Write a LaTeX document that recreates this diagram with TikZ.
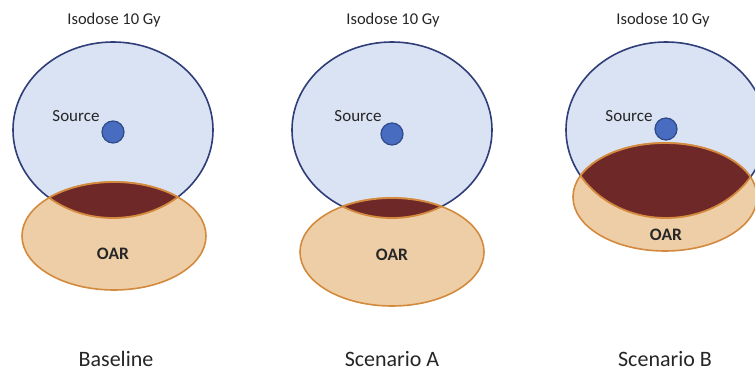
\documentclass[tikz,border=0pt]{standalone}
\usepackage{fontspec}
\setmainfont{Carlito}
\begin{document}
\begin{tikzpicture}[x=1pt,y=-1pt,
  isofill/.style={fill=isoblue,draw=isoedge,line width=1.6pt},
  oarfill/.style={fill=oarpeach,draw=oaredge,line width=1.6pt},
  srcdot/.style={circle,fill=srcblue,draw=srcedge,line width=1.2pt,minimum size=22pt,inner sep=0pt},
  toplbl/.style={font=\fontsize{16.5}{19}\selectfont,text=black!85},
  srclbl/.style={font=\fontsize{17}{20}\selectfont,text=black!85},
  oarlbl/.style={font=\bfseries\fontsize{17.5}{20}\selectfont,text=black!85},
  caplbl/.style={font=\fontsize{22}{26}\selectfont,text=black!85}]
\definecolor{isoblue}{RGB}{218,227,243}
\definecolor{isoedge}{RGB}{47,62,120}
\definecolor{srcblue}{RGB}{72,108,192}
\definecolor{srcedge}{RGB}{47,74,138}
\definecolor{oarpeach}{RGB}{238,206,166}
\definecolor{oaredge}{RGB}{212,138,62}
\definecolor{maroon}{RGB}{110,40,40}
\useasboundingbox (0,0) rectangle (755,371);
\fill[white] (0,0) rectangle (755,371);
\clip (0,0) rectangle (755,371);
% panels: iso center x,y ; oar center x,y
\foreach \ix/\iy/\ox/\oy/\nm in {113/130/114/236/a, 392/130/392/252/b, 666/130/665/197/c}{
  \draw[isofill] (\ix,\iy) ellipse [x radius=100, y radius=88];
  \draw[oarfill] (\ox,\oy) ellipse [x radius=92, y radius=54];
  \begin{scope}
    \clip (\ix,\iy) ellipse [x radius=100, y radius=88];
    \fill[maroon] (\ox,\oy) ellipse [x radius=92, y radius=54];
    \draw[oaredge,line width=1.8pt] (\ox,\oy) ellipse [x radius=92, y radius=54];
  \end{scope}
  \begin{scope}
    \clip (\ox,\oy) ellipse [x radius=92, y radius=54];
    \draw[oaredge,line width=1.8pt] (\ix,\iy) ellipse [x radius=100, y radius=88];
  \end{scope}
}
\node[srcdot] (s1) at (113,132) {};
\node[srcdot] (s2) at (392,134) {};
\node[srcdot] (s3) at (666,129) {};
\node[srclbl] (l1) at (76,116) {Source};
\node[srclbl] (l2) at (358,116) {Source};
\node[srclbl] (l3) at (629,116) {Source};
\node[toplbl] (t1) at (114,20) {Isodose 10 Gy};
\node[toplbl] (t2) at (393,20) {Isodose 10 Gy};
\node[toplbl] (t3) at (663,20) {Isodose 10 Gy};
\node[oarlbl] (o1) at (113,254) {OAR};
\node[oarlbl] (o2) at (392,255) {OAR};
\node[oarlbl] (o3) at (666,235) {OAR};
\node[caplbl] (c1) at (116,359) {Baseline};
\node[caplbl] (c2) at (392,359) {Scenario A};
\node[caplbl] (c3) at (665,359) {Scenario B};
\end{tikzpicture}
\end{document}
